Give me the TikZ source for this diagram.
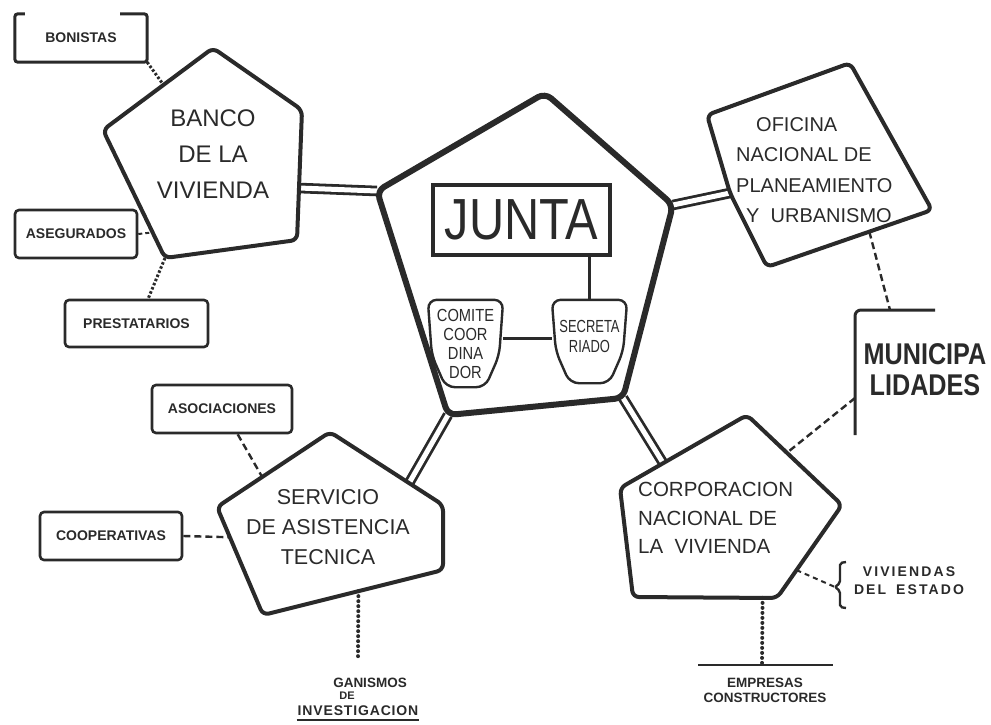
\documentclass[tikz,border=0pt]{standalone}
\usepackage{fontspec}
\setmainfont{Liberation Sans}
\newfontfamily\narrowfnt[FakeStretch=0.84]{Liberation Sans}
\newfontfamily\narrowerfnt[FakeStretch=0.74]{Liberation Sans}
\usetikzlibrary{calc}
\definecolor{ink}{HTML}{2A2A2A}
\newcommand\badgeshape[1]{\draw[draw=ink,line width=2.4pt,rounded corners=9pt] (#1.north west) -- (#1.north east) -- ($(#1.south east)+(-4,-32)$) -- ($(#1.south east)+(-18,0)$) -- ($(#1.south west)+(18,0)$) -- ($(#1.south west)+(4,-32)$) -- cycle;}
\begin{document}
\begin{tikzpicture}[x=1pt,y=-1pt,
  pent/.style={draw=ink,line width=4pt,rounded corners=6pt,line join=round},
  juntapent/.style={draw=ink,line width=6pt,rounded corners=8pt,line join=round},
  dbl/.style={draw=ink,line width=2.8pt,double=white,double distance=5pt},
  labbox/.style={draw=ink,line width=2.6pt,rounded corners=4pt,inner sep=0pt,text=ink,font=\fontsize{14}{16}\selectfont\bfseries},
  ptext/.style={text=ink,align=center,inner sep=0pt},
  dashlink/.style={draw=ink,line width=2.4pt,dash pattern=on 7pt off 4pt},
  finedots/.style={draw=ink,line width=3pt,dash pattern=on 2.5pt off 2pt},
  roundots/.style={draw=ink,line width=4pt,dash pattern=on 0pt off 5pt,line cap=round},
  thinline/.style={draw=ink,line width=2.6pt}
]
\useasboundingbox (0,0) rectangle (991,724);

% pentagon vertices
\coordinate (jT) at (545,93);  \coordinate (jR) at (673,205); \coordinate (jBR) at (623,398);
\coordinate (jBL) at (448,415); \coordinate (jL) at (377,191);
\coordinate (bT) at (213,48);  \coordinate (bR) at (302,110); \coordinate (bBR) at (297,240);
\coordinate (bBL) at (165,258); \coordinate (bL) at (103,130);
\coordinate (oTL) at (707,115); \coordinate (oT) at (850,63); \coordinate (oR) at (932,210);
\coordinate (oB) at (767,267); \coordinate (oL) at (730,193);
\coordinate (sT) at (330,432); \coordinate (sR) at (443,505); \coordinate (sBR) at (443,570);
\coordinate (sBL) at (263,615); \coordinate (sTL) at (217,507);
\coordinate (cT) at (747,415); \coordinate (cR) at (842,505); \coordinate (cBR) at (777,598);
\coordinate (cBL) at (633,597); \coordinate (cTL) at (620,488);

% double links
\draw[dbl] (jL) -- ($(bR)!0.6!(bBR)$);
\draw[dbl] (jR) -- (oL);
\draw[dbl] (jBL) -- ($(sT)!0.7!(sR)$);
\draw[dbl] (jBR) -- ($(cTL)!0.34!(cT)$);

% pentagons
\draw[juntapent] (jT) -- (jR) -- (jBR) -- (jBL) -- (jL) -- cycle;
\draw[pent] (bT) -- (bR) -- (bBR) -- (bBL) -- (bL) -- cycle;
\draw[pent] (oTL) -- (oT) -- (oR) -- (oB) -- (oL) -- cycle;
\draw[pent] (sT) -- (sR) -- (sBR) -- (sBL) -- (sTL) -- cycle;
\draw[pent] (cT) -- (cR) -- (cBR) -- (cBL) -- (cTL) -- cycle;

% pentagon labels
\node[ptext,font=\fontsize{24}{36}\selectfont] (banco) at (213,154) {BANCO\\DE LA\\VIVIENDA};
\node[ptext,align=left,anchor=west,font=\fontsize{20}{30.5}\selectfont] (oficina) at (736,170) {\hspace*{20pt}OFICINA\\NACIONAL DE\\PLANEAMIENTO\\\hspace*{10pt}Y\ \ URBANISMO};
\node[ptext,font=\fontsize{21.5}{30}\selectfont] (servicio) at (328,527) {SERVICIO\\DE ASISTENCIA\\TECNICA};
\node[ptext,align=left,anchor=west,font=\fontsize{20.5}{28.5}\selectfont] (corp) at (638,518) {CORPORACION\\NACIONAL DE\\LA\ \ VIVIENDA};

% junta interior
\node[draw=ink,line width=3.5pt,minimum width=177pt,minimum height=70pt,inner sep=0pt,text=ink,font=\narrowfnt\fontsize{58}{58}\selectfont] (juntabox) at (521.5,220) {JUNTA};
\node[ptext,minimum width=75pt,minimum height=87pt,font=\narrowfnt\fontsize{17.5}{19}\selectfont] (comite) at (465.5,343.5) {COMITE\\COOR\\DINA\\DOR};
\node[minimum width=75pt,minimum height=83pt,inner sep=0pt] (secr) at (589.5,341.5) {};
\node[ptext,font=\narrowerfnt\fontsize{17.5}{20}\selectfont] (secrtext) at (589.5,336) {SECRETA\\RIADO};
\badgeshape{comite}
\badgeshape{secr}
\draw[draw=ink,line width=3pt] (secr.north |- juntabox.south) -- (secr.north);
\draw[draw=ink,line width=3pt] ([yshift=5pt]comite.east) -- ([yshift=5pt]comite.east -| secr.west);

% Banco satellites
\node[ptext,minimum width=132pt,minimum height=48pt,font=\fontsize{14}{16}\selectfont\bfseries] (bon) at (81,38) {BONISTAS};
\draw[draw=ink,line width=3pt,rounded corners=3pt] ($(bon.north west)+(10,0)$) -- (bon.north west) -- (bon.south west) -- (bon.south east) -- (bon.north east) -- ($(bon.north east)+(-27,0)$);
\draw[finedots] (bon.south east) -- ($(bL)!0.55!(bT)$);

\node[labbox,minimum width=122pt,minimum height=48pt] (aseg) at (76,234) {ASEGURADOS};
\draw[draw=ink,line width=2pt,dash pattern=on 4pt off 3pt] (aseg.east) -- ($(bL)!0.8!(bBL)$);

\node[labbox,minimum width=143pt,minimum height=47pt] (prest) at (136.5,323.5) {PRESTATARIOS};
\draw[finedots] (bBL) -- ($(prest.north west)!0.58!(prest.north east)$);

% Servicio satellites
\node[labbox,minimum width=140pt,minimum height=48pt] (asoc) at (222,409) {ASOCIACIONES};
\draw[dashlink] ($(asoc.south west)!0.61!(asoc.south east)$) -- ($(sTL)!0.4!(sT)$);

\node[labbox,minimum width=142pt,minimum height=48pt] (coop) at (111,536) {COOPERATIVAS};
\draw[dashlink] (coop.east) -- ($(sTL)!0.28!(sBL)$);

\coordinate (orgTop) at (358,658);
\draw[roundots] ($(sBL)!0.53!(sBR)$) -- (orgTop);
\node[ptext,font=\fontsize{13.5}{14}\selectfont\bfseries] (org1) at (370,683) {GANISMOS};
\node[ptext,font=\fontsize{11}{12}\selectfont\bfseries] (org2) at (347,696) {DE};
\node[ptext,inner sep=1pt,font=\fontsize{14}{15}\selectfont\bfseries\addfontfeature{LetterSpace=6}] (org3) at (358,711) {INVESTIGACION};
\draw[draw=ink,line width=1.8pt] ($(org3.south west)+(0,3)$) -- ($(org3.south east)+(0,3)$);

% Municipalidades
\coordinate (mTR) at (935,310); \coordinate (mTL) at (855,310); \coordinate (mBot) at (855,435);
\coordinate (mT) at (890,310); \coordinate (mL) at (855,398);
\draw[draw=ink,line width=3pt,rounded corners=6pt] (mTR) -- (mTL) -- (mBot);
\node[ptext,font=\narrowfnt\bfseries\fontsize{30}{31}\selectfont] (muni) at (925,370) {MUNICIPA\\LIDADES};
\draw[dashlink] ($(oB)!0.62!(oR)$) -- (mT);
\draw[dashlink] (mL) -- ($(cT)!0.42!(cR)$);

% Viviendas del estado
\coordinate (vivBr) at (835,587);
\draw[draw=ink,line width=2.4pt,rounded corners=2pt] (846,562) -- (840,563) -- (840,583) -- (vivBr) -- (840,591) -- (840,607) -- (846,608);
\draw[draw=ink,line width=2pt,dash pattern=on 5pt off 4pt] ($(cR)!0.7!(cBR)$) -- (vivBr);
\node[ptext,font=\fontsize{14}{18}\selectfont\bfseries\addfontfeature{LetterSpace=15}] (viv) at (909,581) {VIVIENDAS\\DEL\hspace{10pt}ESTADO};

% Empresas constructores
\coordinate (empTop) at (762,665); \coordinate (empL) at (698,665); \coordinate (empR) at (833,665);
\draw[roundots] ($(cBL)!0.9!(cBR)$) -- (empTop);
\draw[draw=ink,line width=2pt] (empL) -- (empR);
\node[ptext,font=\fontsize{13.5}{15}\selectfont\bfseries] (emp) at (765,690) {EMPRESAS\\CONSTRUCTORES};
\end{tikzpicture}
\end{document}
